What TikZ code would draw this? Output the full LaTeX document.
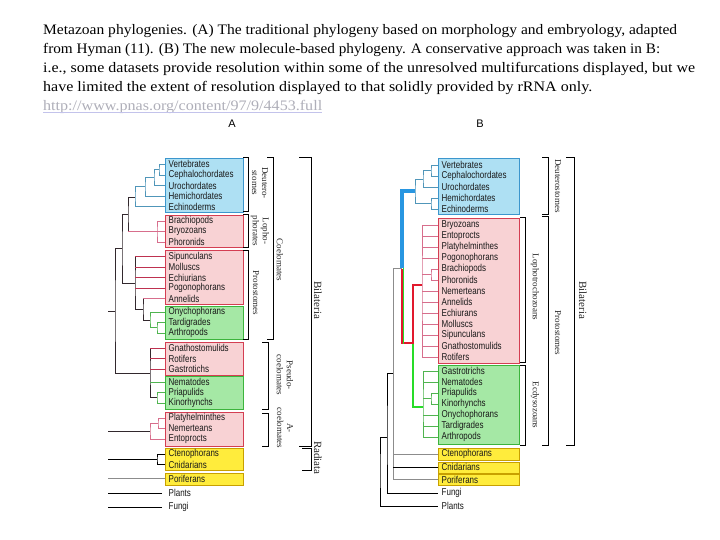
\documentclass[tikz,border=0pt]{standalone}
\usepackage{fontspec}
\setmainfont{Liberation Serif}
\newfontfamily\taxfont[FakeStretch=0.8]{Liberation Sans}
\newfontfamily\lblsans{Liberation Sans}
\definecolor{bluefill}{RGB}{174,224,243}
\definecolor{blueedge}{RGB}{60,150,205}
\definecolor{pinkfill}{RGB}{248,210,212}
\definecolor{pinkedge}{RGB}{212,62,82}
\definecolor{greenfill}{RGB}{165,232,165}
\definecolor{greenedge}{RGB}{60,180,60}
\definecolor{yelfill}{RGB}{255,236,60}
\definecolor{yeledge}{RGB}{200,160,0}
\definecolor{deutline}{RGB}{80,150,185}
\definecolor{pinkline}{RGB}{215,110,140}
\definecolor{redline}{RGB}{190,50,80}
\definecolor{darkline}{RGB}{50,40,45}
\definecolor{greenline}{RGB}{80,180,80}
\definecolor{grayline}{RGB}{140,140,140}
\definecolor{thblue}{RGB}{40,150,225}
\definecolor{thred}{RGB}{225,25,45}
\definecolor{thgreen}{RGB}{40,220,40}
\definecolor{urltext}{RGB}{175,175,185}
\definecolor{urlline}{RGB}{195,195,235}
\definecolor{labtext}{RGB}{40,40,40}
\newsavebox\hdbox
\newcommand\fitw[2]{\sbox\hdbox{#2}\pgfmathsetmacro\hdratio{#1/\wd\hdbox}\scalebox{\hdratio}[1]{\usebox\hdbox}}
\begin{document}
\begin{tikzpicture}[x=1pt,y=-1pt,
  tx/.style={font=\taxfont\fontsize{10}{11}\selectfont, text=black!90, inner xsep=3.5pt, inner ysep=0pt, anchor=west},
  hdline/.style={font=\fontsize{14.5}{16}\selectfont, inner sep=0pt, anchor=base west},
  boxbase/.style={rectangle, line width=1.1pt, inner sep=0pt, anchor=north west},
  bluebox/.style={boxbase, draw=blueedge, fill=bluefill},
  pinkbox/.style={boxbase, draw=pinkedge, fill=pinkfill},
  greenbox/.style={boxbase, draw=greenedge, fill=greenfill},
  yelbox/.style={boxbase, draw=yeledge, fill=yelfill},
  brk/.style={draw=black, line width=1pt},
  lbl/.style={font=\fontsize{9}{10}\selectfont, text=labtext, rotate=-90, align=center, inner sep=0pt},
  biglbl/.style={font=\fontsize{11}{12}\selectfont, text=labtext, rotate=-90, inner sep=0pt},
  dl/.style={draw=deutline, line width=0.9pt},
  pkl/.style={draw=pinkline, line width=0.9pt},
  rdl/.style={draw=redline, line width=0.9pt},
  dkl/.style={draw=darkline, line width=0.9pt},
  grl/.style={draw=greenline, line width=0.9pt},
  gyl/.style={draw=grayline, line width=0.9pt},
  bkl/.style={draw=black, line width=0.9pt},
  tkb/.style={draw=thblue, line width=3.2pt},
  tkr/.style={draw=thred, line width=2.4pt},
  tkg/.style={draw=thgreen, line width=2.8pt}
]
\useasboundingbox (0,0) rectangle (720,540);
\fill[white] (0,0) rectangle (720,540);

% ---------- header ----------
\node[hdline] (l1) at (43,34.5) {\fitw{634}{Metazoan phylogenies. (A) The traditional phylogeny based on morphology and embryology, adapted}};
\node[hdline] (l2) at (43,53.5) {\fitw{617}{from Hyman (11). (B) The new molecule-based phylogeny. A conservative approach was taken in B:}};
\node[hdline] (l3) at (43,72.5) {\fitw{652}{i.e., some datasets provide resolution within some of the unresolved multifurcations displayed, but we}};
\node[hdline] (l4) at (43,91.5) {\fitw{549}{have limited the extent of resolution displayed to that solidly provided by rRNA only.}};
\node[hdline, text=urltext] (url) at (43,110.5) {\fitw{279}{http://www.pnas.org/content/97/9/4453.full}};
\draw[urlline, line width=1.2pt] ([yshift=-2pt]url.base west) -- ([yshift=-2pt]url.base east);

\node[font=\lblsans\fontsize{11}{12}\selectfont, inner sep=0pt] (la) at (232,124) {A};
\node[font=\lblsans\fontsize{11}{12}\selectfont, inner sep=0pt] (lb) at (480,124) {B};

% ---------- panel A boxes ----------
\node[bluebox, minimum width=78pt, minimum height=54pt] (a-b1) at (165,158) {};
\node[pinkbox, minimum width=78pt, minimum height=32pt] (a-b2) at (165,215) {};
\node[pinkbox, minimum width=78pt, minimum height=54pt] (a-b3) at (165,250) {};
\node[greenbox, minimum width=78pt, minimum height=33pt] (a-b4) at (165,306) {};
\node[pinkbox, minimum width=78pt, minimum height=33pt] (a-b5) at (165,342) {};
\node[greenbox, minimum width=78pt, minimum height=33pt] (a-b6) at (165,376) {};
\node[pinkbox, minimum width=78pt, minimum height=34pt] (a-b7) at (165,412) {};
\node[yelbox, minimum width=78pt, minimum height=22pt] (a-b8) at (165,448) {};
\node[yelbox, minimum width=78pt, minimum height=11.5pt] (a-b9) at (165,473) {};

\foreach \n/\t/\y in {vert/Vertebrates/164, ceph/Cephalochordates/175, uro/Urochordates/185.5, hemi/Hemichordates/196, echin/Echinoderms/206.5,
  brach/Brachiopods/221, bryo/Bryozoans/231.5, phor/Phoronids/242,
  sip/Sipunculans/256.5, moll/Molluscs/267, echiu/Echiurians/277.5, pogo/Pogonophorans/288, annel/Annelids/298.5,
  onych/Onychophorans/312, tard/Tardigrades/322.5, arth/Arthropods/333,
  gnath/Gnathostomulids/348, rot/Rotifers/358.5, gast/Gastrotichs/369,
  nem/Nematodes/382, pri/Priapulids/392.5, kin/Kinorhynchs/403,
  platy/Platyhelminthes/418, nemer/Nemerteans/428.5, ento/Entoprocts/439,
  cten/Ctenophorans/454, cnid/Cnidarians/464.5, porif/Poriferans/478.5,
  plants/Plants/493, fungi/Fungi/507}
  \node[tx] (a-\n) at (165,\y) {\t};

% ---------- panel A tree ----------
\coordinate (a-n1) at (159,169.5);
\coordinate (a-n2) at (154,177);
\coordinate (a-n3) at (145,186.5);
\coordinate (a-n4) at (135,197);
\coordinate (a-n5) at (128,214.5);
\coordinate (a-lp) at (157,231.5);
\coordinate (a-pr) at (135,283);
\coordinate (a-art) at (143,309);
\coordinate (a-grn) at (150,320);
\coordinate (a-ta) at (157,327.75);
\coordinate (a-co) at (122,248);
\coordinate (a-ps) at (150,373);
\coordinate (a-pk) at (157,397.75);
\coordinate (a-bi) at (115,311);
\coordinate (a-pn) at (158,423.25);
\coordinate (a-ac) at (150,431);
\coordinate (a-ra) at (157,459.25);
\coordinate (a-edge) at (108,0);

\draw[dl] (a-vert.west) -| (a-n1) |- (a-ceph.west);
\draw[dl] (a-n1) -| (a-n2) |- (a-uro.west);
\draw[dl] (a-n2) -| (a-n3) |- (a-hemi.west);
\draw[dl] (a-n3) -| (a-n4) |- (a-echin.west);
\draw[dkl] (a-n4) -| (a-n5) -- (a-n5 |- a-lp);
\draw[pkl] (a-n5 |- a-lp) -- (a-lp);
\draw[pkl] (a-brach.west) -| (a-lp) |- (a-phor.west);
\draw[pkl] (a-lp) -- (a-bryo.west);
\draw[dkl] (a-n5) -| (a-co) |- (a-pr);
\draw[dkl] (a-sip.west -| a-pr) -- (a-pr) |- (a-art);
\foreach \n in {sip,moll,echiu,pogo} \draw[rdl] (a-\n.west) -- (a-\n.west -| a-pr);
\draw[pkl] (a-annel.west) -- (a-annel.west -| a-art);
\draw[dkl] (a-annel.west -| a-art) -- (a-art) |- (a-grn);
\draw[grl] (a-onych.west) -| (a-grn) |- (a-ta);
\draw[grl] (a-tard.west) -| (a-ta) |- (a-arth.west);
\draw[dkl] (a-co) -| (a-bi) |- (a-ps);
\draw[dkl] (a-bi) -- (a-bi -| a-edge);
\draw[dkl] (a-gnath.west -| a-ps) -- (a-ps) |- (a-pk);
\foreach \n in {gnath,rot,gast} \draw[rdl] (a-\n.west) -- (a-\n.west -| a-ps);
\draw[grl] (a-nem.west) -- (a-nem.west -| a-ps);
\draw[grl] (a-pri.west) -| (a-pk) |- (a-kin.west);
\draw[pkl] (a-platy.west) -| (a-pn) |- (a-nemer.west);
\draw[pkl] (a-pn) -| (a-ac) |- (a-ento.west);
\draw[dkl] (a-ac) -- (a-ac -| a-edge);
\draw[bkl] (a-cten.west) -| (a-ra) |- (a-cnid.west);
\draw[bkl] (a-ra) -- (a-ra -| a-edge);
\draw[gyl] (a-porif.west) -- (a-porif.west -| a-edge);
\draw[bkl] ([xshift=-3pt]a-plants.west) -- (a-plants.west -| a-edge);
\draw[bkl] ([xshift=-3pt]a-fungi.west) -- (a-fungi.west -| a-edge);

% ---------- panel A brackets ----------
\draw[brk] (243,158) -| (248,212) -- (243,212);
\draw[brk] (243,215) -| (248,247) -- (243,247);
\draw[brk] (243,250) -| (248,339) -- (243,339);
\draw[brk] (267,158) -| (273,339) -- (267,339);
\draw[brk] (262,342) -| (268,409) -- (262,409);
\draw[brk] (262,413) -| (268,446) -- (262,446);
\draw[brk] (299,158) -| (311,446) -- (299,446);
\draw[brk] (302,448.5) -| (311,470) -- (302,470);

\node[lbl] (a-ldeut) at (260,183) {Deutero-\\stomes};
\node[lbl] (a-lloph) at (260,231) {Lopho-\\phorates};
\node[lbl] (a-lprot) at (256,293) {Protostomes};
\node[lbl] (a-lcoel) at (280,260) {Coelomates};
\node[lbl] (a-lpseu) at (285,375) {Pseudo-\\coelomates};
\node[lbl] (a-lacoe) at (285,428) {A-\\coelomates};
\node[biglbl] (a-lbila) at (318,300) {Bilateria};
\node[biglbl] (a-lradi) at (318,458) {Radiata};

% ---------- panel B boxes ----------
\node[bluebox, minimum width=81pt, minimum height=56pt] (b-b1) at (438,158) {};
\node[pinkbox, minimum width=81pt, minimum height=145pt] (b-b2) at (438,218) {};
\node[greenbox, minimum width=81pt, minimum height=79pt] (b-b3) at (438,365) {};
\node[yelbox, minimum width=81pt, minimum height=11.5pt] (b-b4) at (438,448) {};
\node[yelbox, minimum width=81pt, minimum height=11pt] (b-b5) at (438,461.5) {};
\node[yelbox, minimum width=81pt, minimum height=11pt] (b-b6) at (438,474) {};

\foreach \n/\t/\y in {vert/Vertebrates/165, ceph/Cephalochordates/176, uro/Urochordates/187, hemi/Hemichordates/198, echin/Echinoderms/209,
  bryo/Bryozoans/225, ento/Entoprocts/236, platy/Platyhelminthes/247, pogo/Pogonophorans/258, brach/Brachiopods/269,
  phor/Phoronids/280, nemer/Nemerteans/291, annel/Annelids/302, echiu/Echiurans/313, moll/Molluscs/324,
  sip/Sipunculans/335, gnath/Gnathostomulids/346, rot/Rotifers/357,
  gast/Gastrotrichs/371, nem/Nematodes/382, pri/Priapulids/393, kin/Kinorhynchs/404, onych/Onychophorans/415,
  tard/Tardigrades/426, arth/Arthropods/437,
  cten/Ctenophorans/454, cnid/Cnidarians/467, porif/Poriferans/479.5,
  fungi/Fungi/493, plants/Plants/506}
  \node[tx] (b-\n) at (438,\y) {\t};

% ---------- panel B tree ----------
\coordinate (b-vc) at (431,170.5);
\coordinate (b-vcu) at (423,179);
\coordinate (b-he) at (431,203.5);
\coordinate (b-de) at (415,191);
\coordinate (b-bil) at (402,268);
\coordinate (b-lo) at (422,285);
\coordinate (b-bp) at (431,274.5);
\coordinate (b-rx) at (413,343);
\coordinate (b-pn) at (402,343);
\coordinate (b-ec) at (423,407);
\coordinate (b-pk) at (431,398.5);
\coordinate (b-mt) at (393,268);
\coordinate (b-mz) at (393,373);
\coordinate (b-op) at (387,437);
\coordinate (b-rt) at (380,470);

\draw[dl] (b-vert.west) -| (b-vc) |- (b-ceph.west);
\draw[dl] (b-vc) -| (b-vcu) |- (b-uro.west);
\draw[dl] (b-hemi.west) -| (b-he) |- (b-echin.west);
\draw[dl] (b-vcu) -| (b-de) |- (b-he);

\draw[pkl] (b-bryo.west) -| (b-lo) |- (b-rot.west);
\foreach \n in {ento,platy,pogo,nemer,annel,echiu,moll,sip,gnath} \draw[pkl] (b-\n.west) -- (b-\n.west -| b-lo);
\draw[pkl] (b-brach.west) -| (b-bp) |- (b-phor.west);
\draw[pkl] (b-bp) -- (b-bp -| b-lo);

\draw[grl] (b-gast.west) -| (b-ec) |- (b-arth.west);
\foreach \n in {nem,onych,tard} \draw[grl] (b-\n.west) -- (b-\n.west -| b-ec);
\draw[grl] (b-pri.west) -| (b-pk) |- (b-kin.west);
\draw[grl] (b-pk) -- (b-pk -| b-ec);

\draw[gyl] (b-bil) -- (b-mt) |- (b-porif.west);
\draw[gyl] (b-cten.west) -- (b-cten.west -| b-mt);
\draw[bkl] (b-cnid.west) -- (b-cnid.west -| b-mt);
\draw[bkl] (b-mz) -| (b-op) |- (b-fungi.west);
\draw[bkl] (b-op) -| (b-rt) |- (b-plants.west);

\draw[tkg, line cap=butt] (b-rx) |- (b-ec);
\draw[tkr, line join=miter] (b-lo) -| (b-rx) -- (b-pn) -- ([yshift=-0.5pt]b-bil);
\draw[tkg, line width=1.4pt] ([xshift=1.5pt]b-bil) -- ([xshift=1.5pt,yshift=-1pt]b-pn);
\draw[tkb, line join=miter] (b-de) -| (b-bil);

% ---------- panel B brackets ----------
\draw[brk] (542,158) -| (548,215) -- (542,215);
\draw[brk] (520,218) -| (525,362) -- (520,362);
\draw[brk] (520,365) -| (525,445) -- (520,445);
\draw[brk] (542,217) -| (548,445) -- (542,445);
\draw[brk] (566,158) -| (574,445) -- (566,445);

\node[lbl] (b-ldeut) at (558,186) {Deuterostomes};
\node[lbl] (b-lloph) at (535,287) {Lophotrochozoans};
\node[lbl] (b-lecdy) at (535,405) {Ecdysozoans};
\node[lbl] (b-lprot) at (558,333) {Protostomes};
\node[biglbl] (b-lbila) at (583,300) {Bilateria};
\end{tikzpicture}
\end{document}
